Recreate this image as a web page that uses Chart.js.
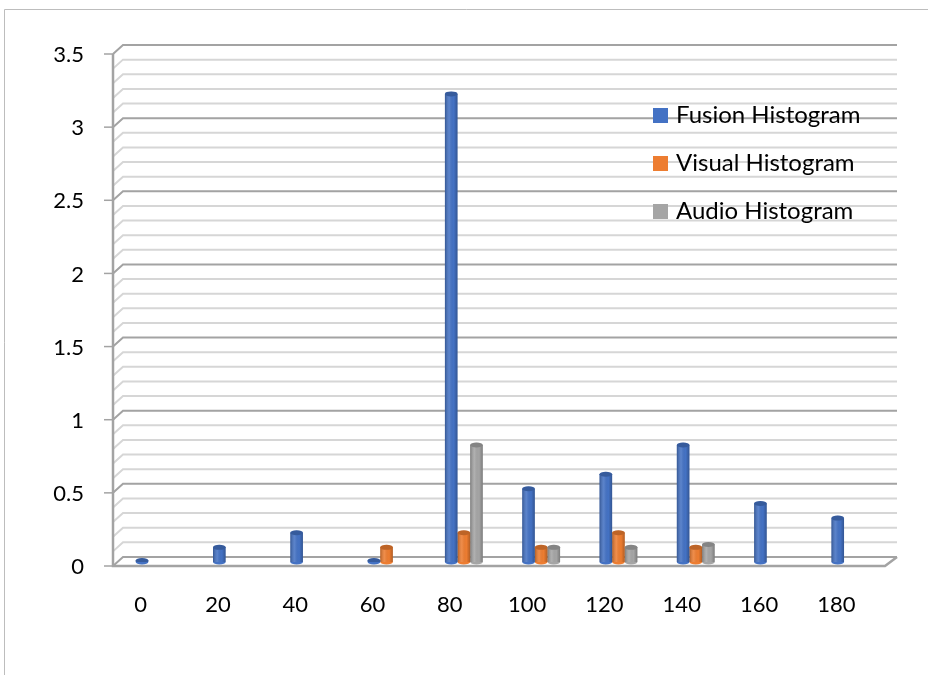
<!DOCTYPE html>
<html>
<head>
<meta charset="utf-8">
<script src="https://cdn.jsdelivr.net/npm/chart.js@4"></script>
<style>
  body { margin: 0; background: #fff; }
  #wrap { position: relative; width: 928px; height: 675px; }
</style>
</head>
<body>
<div id="wrap"><canvas id="hist" width="928" height="675"></canvas></div>
<script>
// data
const categories = ['0', '20', '40', '60', '80', '100', '120', '140', '160', '180'];
const fusionValues = [0.01, 0.1, 0.2, 0.01, 3.2, 0.5, 0.6, 0.8, 0.4, 0.3];
const visualValues = [null, null, null, 0.1, 0.2, 0.1, 0.2, 0.1, null, null];
const audioValues = [null, null, null, null, 0.8, 0.1, 0.1, 0.12, null, null];
const seriesNames = ['Fusion Histogram', 'Visual Histogram', 'Audio Histogram'];
const seriesColors = ['#4472C4', '#ED7D31', '#A5A5A5'];

const FONT = 'Lato, "Open Sans", sans-serif';
const DEPTH = 9; // px of fake 3d depth

// frame, back wall grid and floor (drawn before bars)
const wallPlugin = {
    id: 'wall',
    beforeDraw(chart) {
        const c = chart.ctx;
        c.save();
        c.strokeStyle = '#bdbdbd';
        c.lineWidth = 1;
        c.beginPath();
        c.moveTo(4.5, 675);
        c.lineTo(4.5, 9.5);
        c.lineTo(928, 9.5);
        c.stroke();
        c.restore();
    },
    beforeDatasetsDraw(chart) {
        const c = chart.ctx;
        const y = chart.scales.y;
        const area = chart.chartArea;
        const frontX = area.left - 3;
        const backX = frontX + 10;
        const rightX = area.right + 8;
        c.save();
        c.lineWidth = 2;
        for (let i = 0; i <= 35; i++) {
            const py = y.getPixelForValue(i / 10) - 5;
            c.strokeStyle = (i % 5 === 0) ? '#a3a3a3' : '#d6d6d6';
            c.beginPath();
            c.moveTo(frontX, py + DEPTH);
            c.lineTo(backX, py);
            c.lineTo(rightX, py);
            c.stroke();
        }
        // front axis
        c.strokeStyle = '#a3a3a3';
        c.lineWidth = 2.5;
        const top = y.getPixelForValue(3.5) - 5 + DEPTH;
        const bot = y.getPixelForValue(0) - 5 + DEPTH;
        c.beginPath();
        c.moveTo(frontX, top);
        c.lineTo(frontX, bot);
        c.lineTo(rightX - 12, bot);
        c.lineTo(rightX, bot - DEPTH);
        c.stroke();
        c.lineWidth = 1.5;
        for (let i = 0; i <= 7; i++) {
            const py = y.getPixelForValue(i / 2) - 5 + DEPTH;
            c.beginPath();
            c.moveTo(frontX - 9, py);
            c.lineTo(frontX, py);
            c.stroke();
        }
        c.restore();
    },
    afterDatasetsDraw(chart) {
        // cylinder shading on top of the library's bars
        const c = chart.ctx;
        chart.data.datasets.forEach((ds, di) => {
            const meta = chart.getDatasetMeta(di);
            meta.data.forEach((bar, i) => {
                if (ds.data[i] === null) return;
                const left = bar.x - bar.width / 2;
                const g = c.createLinearGradient(left, 0, left + bar.width, 0);
                g.addColorStop(0, 'rgba(0,0,0,0.25)');
                g.addColorStop(0.35, 'rgba(255,255,255,0.12)');
                g.addColorStop(0.7, 'rgba(0,0,0,0)');
                g.addColorStop(1, 'rgba(0,0,0,0.25)');
                c.save();
                c.fillStyle = g;
                c.fillRect(left, bar.y, bar.width, bar.base - bar.y);
                c.fillStyle = seriesColors[di];
                c.beginPath();
                c.ellipse(bar.x, bar.y, bar.width / 2, 2.5, 0, 0, Math.PI * 2);
                c.fill();
                c.fillStyle = 'rgba(0,0,0,0.2)';
                c.fill();
                c.beginPath();
                c.ellipse(bar.x, bar.base, bar.width / 2, 2.5, 0, 0, Math.PI);
                c.fillStyle = seriesColors[di];
                c.fill();
                c.restore();
            });
        });
    },
    afterDraw(chart) {
        // legend inside plot, top right
        const c = chart.ctx;
        c.save();
        c.font = '24px ' + FONT;
        c.textBaseline = 'middle';
        chart.data.datasets.forEach((ds, i) => {
            const cy = 115.5 + i * 48;
            c.fillStyle = ds.backgroundColor;
            c.fillRect(653, cy - 7.5, 15, 15);
            c.fillStyle = '#000';
            c.fillText(ds.label, 676, cy);
        });
        c.restore();
    }
};

const ctx = document.getElementById('hist').getContext('2d');
new Chart(ctx, {
    type: 'bar',
    data: {
        labels: categories,
        datasets: [
            { label: seriesNames[0], data: fusionValues, backgroundColor: seriesColors[0] },
            { label: seriesNames[1], data: visualValues, backgroundColor: seriesColors[1] },
            { label: seriesNames[2], data: audioValues, backgroundColor: seriesColors[2] }
        ]
    },
    options: {
        responsive: false,
        animation: false,
        layout: { padding: { top: 50, right: 39, left: 0, bottom: 0 } },
        datasets: {
            bar: { categoryPercentage: 0.49, barPercentage: 1 }
        },
        plugins: {
            legend: { display: false },
            tooltip: { enabled: false }
        },
        scales: {
            x: {
                grid: { display: false, drawTicks: false },
                border: { display: false },
                ticks: {
                    color: '#000',
                    font: { family: FONT, size: 22 },
                    padding: 30,
                    labelOffset: -14,
                    maxRotation: 0
                },
                afterFit(scale) { scale.height = 113; }
            },
            y: {
                min: 0,
                max: 3.5,
                grid: { display: false, drawTicks: false },
                border: { display: false },
                ticks: {
                    stepSize: 0.5,
                    color: '#000',
                    font: { family: FONT, size: 22 },
                    padding: 32,
                    labelOffset: 5,
                    callback: v => String(v)
                },
                afterFit(scale) { scale.width = 116; }
            }
        }
    },
    plugins: [wallPlugin]
});
</script>
</body>
</html>
